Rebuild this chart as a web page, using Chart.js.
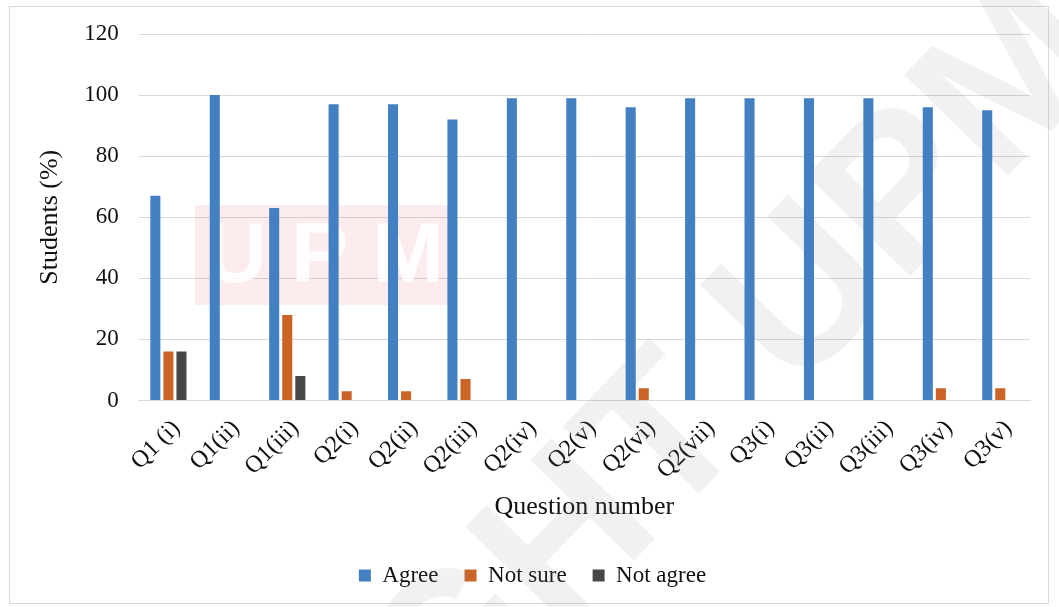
<!DOCTYPE html>
<html>
<head>
<meta charset="utf-8">
<script src="https://cdn.jsdelivr.net/npm/chart.js@4"></script>
<style>
    html, body { margin: 0; padding: 0; background: #fff; }
    #frame {
        position: absolute;
        left: 9px; top: 6px;
        width: 1040px; height: 598px;
        border: 1px solid #d9d9d9;
        box-sizing: border-box;
    }
    #wrap { position: absolute; left: 0; top: 0; width: 1059px; height: 607px; }
</style>
</head>
<body>
<div id="frame"></div>
<div id="wrap"><canvas id="chart"></canvas></div>
<script>
    'use strict';

    const questions = ['Q1 (i)', 'Q1(ii)', 'Q1(iii)', 'Q2(i)', 'Q2(ii)', 'Q2(iii)', 'Q2(iv)', 'Q2(v)',
        'Q2(vi)', 'Q2(vii)', 'Q3(i)', 'Q3(ii)', 'Q3(iii)', 'Q3(iv)', 'Q3(v)'];
    const agree = [67, 100, 63, 97, 97, 92, 99, 99, 96, 99, 99, 99, 99, 96, 95];
    const notSure = [16, 0, 28, 3, 3, 7, 0, 0, 4, 0, 0, 0, 0, 4, 4];
    const notAgree = [16, 0, 8, 0, 0, 0, 0, 0, 0, 0, 0, 0, 0, 0, 0];
    const yTicks = [0, 20, 40, 60, 80, 100, 120];

    const serif = '"Liberation Serif", "DejaVu Serif", serif';

    // faint watermark behind the bars (logo box + diagonal text)
    const watermark = {
        id: 'watermark',
        beforeDatasetsDraw(chart) {
            const ctx = chart.ctx;
            ctx.save();
            ctx.fillStyle = 'rgba(225, 70, 80, 0.10)';
            ctx.fillRect(195, 205, 260, 100);
            ctx.font = 'bold 86px "Liberation Sans", sans-serif';
            ctx.fillStyle = 'rgba(255, 255, 255, 0.85)';
            ctx.textBaseline = 'middle';
            ctx.fillText('U P M', 205, 258);
            ctx.translate(1120, 60);
            ctx.rotate(-0.8);
            ctx.font = 'bold 210px "Liberation Sans", sans-serif';
            ctx.fillStyle = 'rgba(140, 140, 140, 0.12)';
            ctx.textAlign = 'right';
            ctx.textBaseline = 'alphabetic';
            ctx.fillText('RIGHT UPM', 0, 0);
            ctx.restore();
        }
    };

    const ctx = document.getElementById('chart').getContext('2d');
    new Chart(ctx, {
        type: 'bar',
        data: {
            labels: questions,
            datasets: [
                { label: 'Agree', data: agree, backgroundColor: '#4280c2' },
                { label: 'Not sure', data: notSure, backgroundColor: '#cc6428' },
                { label: 'Not agree', data: notAgree, backgroundColor: '#474747' }
            ]
        },
        options: {
            responsive: true,
            maintainAspectRatio: false,
            animation: false,
            layout: { padding: { left: 35, right: 29, top: 34, bottom: 10 } },
            datasets: {
                bar: { categoryPercentage: 0.66, barPercentage: 0.77 }
            },
            plugins: {
                legend: {
                    position: 'bottom',
                    labels: {
                        boxWidth: 12,
                        boxHeight: 12,
                        padding: 26,
                        color: '#111',
                        font: { family: serif, size: 23 }
                    }
                },
                tooltip: { enabled: false }
            },
            scales: {
                x: {
                    grid: { display: false, drawTicks: false },
                    border: { display: true, color: '#d9d9d9', width: 1 },
                    ticks: {
                        minRotation: 45,
                        maxRotation: 45,
                        padding: 14,
                        labelOffset: 8,
                        color: '#111',
                        font: { family: serif, size: 24 }
                    },
                    title: {
                        display: true,
                        text: 'Question number',
                        color: '#111',
                        font: { family: serif, size: 26 },
                        padding: { top: -7, bottom: 15 }
                    }
                },
                y: {
                    min: 0,
                    max: 120,
                    afterBuildTicks(axis) {
                        axis.ticks = yTicks.map(v => ({ value: v }));
                    },
                    grid: { color: '#d9d9d9', drawTicks: false },
                    border: { display: false },
                    ticks: {
                        padding: 20,
                        color: '#111',
                        font: { family: serif, size: 23 }
                    },
                    title: {
                        display: true,
                        text: 'Students (%)',
                        color: '#111',
                        font: { family: serif, size: 26 },
                        padding: { top: 0, bottom: -2 }
                    }
                }
            }
        },
        plugins: [watermark]
    });
</script>
</body>
</html>
